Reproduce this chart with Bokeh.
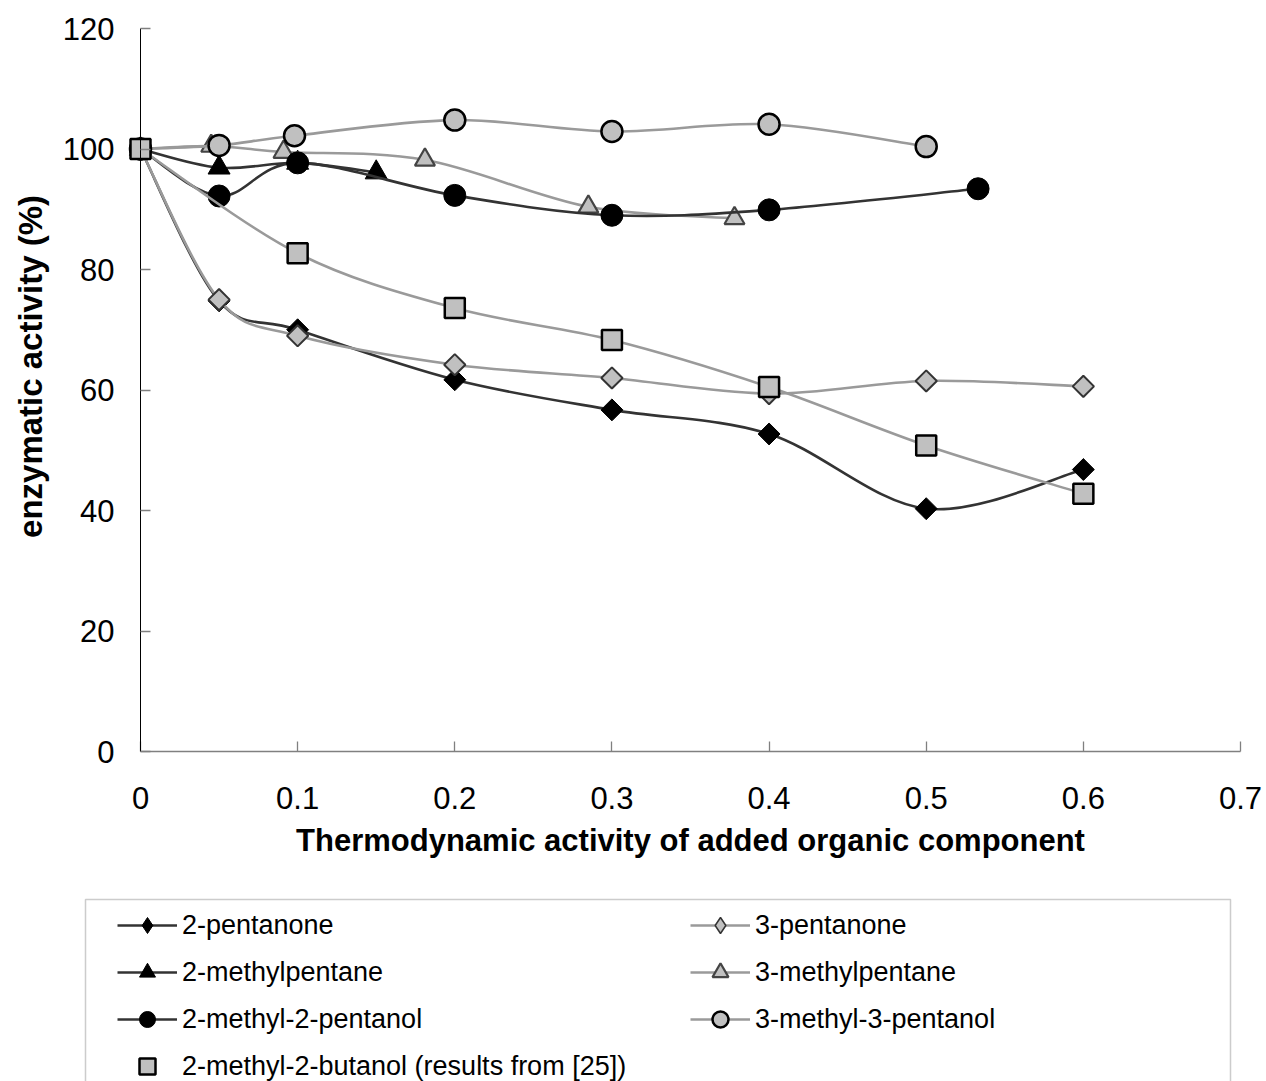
import numpy as np
from bokeh.plotting import figure
from bokeh.models import Range1d, FixedTicker, Legend, LegendItem, BoxAnnotation, Label
from bokeh.embed import file_html
from bokeh.resources import INLINE

# ---------------- data ----------------
x_ticks = [0, 0.1, 0.2, 0.3, 0.4, 0.5, 0.6, 0.7]
x_tick_labels = ["0", "0.1", "0.2", "0.3", "0.4", "0.5", "0.6", "0.7"]
y_ticks = [0, 20, 40, 60, 80, 100, 120]
y_tick_labels = ["0", "20", "40", "60", "80", "100", "120"]

pentanone2_x = [0, 0.05, 0.1, 0.2, 0.3, 0.4, 0.5, 0.6]
pentanone2_y = [100, 74.8, 70.0, 61.7, 56.7, 52.7, 40.3, 46.8]

pentanone3_x = [0, 0.05, 0.1, 0.2, 0.3, 0.4, 0.5, 0.6]
pentanone3_y = [100, 75.0, 69.0, 64.2, 62.0, 59.4, 61.5, 60.6]

methylpentane2_x = [0, 0.05, 0.1, 0.15]
methylpentane2_y = [100, 96.9, 97.7, 96.1]

methylpentane3_x = [0, 0.045, 0.091, 0.181, 0.285, 0.378]
methylpentane3_y = [100, 100.5, 99.5, 98.2, 90.4, 88.5]

methylpentanol2_x = [0, 0.05, 0.1, 0.2, 0.3, 0.4, 0.533]
methylpentanol2_y = [100, 92.2, 97.7, 92.3, 89.0, 89.9, 93.4]

methylpentanol3_x = [0, 0.05, 0.098, 0.2, 0.3, 0.4, 0.5]
methylpentanol3_y = [100, 100.6, 102.2, 104.8, 102.9, 104.1, 100.4]

methylbutanol2_x = [0, 0.1, 0.2, 0.3, 0.4, 0.5, 0.6]
methylbutanol2_y = [100, 82.7, 73.6, 68.3, 60.5, 50.8, 42.8]

# ---------------- layout (pixels) ----------------
W, H = 1266, 1081
AX_LEFT, AX_RIGHT = 140, 1240      # x = 0 .. 0.7
AX_TOP, AX_BOTTOM = 28, 751        # y = 120 .. 0
X_MAX, Y_MAX = 0.7, 120.0
kx = X_MAX / (AX_RIGHT - AX_LEFT)
ky = Y_MAX / (AX_BOTTOM - AX_TOP)

FONT = "Liberation Sans"
DARK_LINE = "#333333"
GRAY_LINE = "#9a9a9a"
GRAY_FILL = "#c0c0c0"

p = figure(
    width=W, height=H,
    min_border=0,
    x_range=Range1d(-AX_LEFT * kx, X_MAX + (W - AX_RIGHT) * kx),
    y_range=Range1d(-(H - AX_BOTTOM) * ky, Y_MAX + AX_TOP * ky),
    output_backend="svg", toolbar_location=None,
)
p.outline_line_color = None
p.grid.visible = False
p.background_fill_color = "white"
p.border_fill_color = "white"

# axes (placed at the data origin; the frame fills the whole canvas)
p.xaxis.fixed_location = 0
p.yaxis.fixed_location = 0
p.xaxis.bounds = (0, X_MAX)
p.yaxis.bounds = (0, Y_MAX)
p.xaxis.ticker = FixedTicker(ticks=x_ticks)
p.yaxis.ticker = FixedTicker(ticks=y_ticks)
p.xaxis.major_label_overrides = {t: s for t, s in zip(x_ticks, x_tick_labels)}
p.yaxis.major_label_overrides = {t: s for t, s in zip(y_ticks, y_tick_labels)}
for ax in (p.xaxis, p.yaxis):
    ax.minor_tick_line_color = None
    ax.major_tick_in = 10
    ax.major_tick_out = 0
    ax.major_tick_line_color = "#808080"
    ax.major_tick_line_width = 1.3
    ax.major_label_text_font = FONT
    ax.major_label_text_font_size = "31px"
    ax.major_label_text_color = "black"
    ax.axis_label_text_font = FONT
    ax.axis_label_text_font_style = "bold"
    ax.axis_label_text_color = "black"
p.xaxis.axis_line_color = "#808080"
p.xaxis.axis_line_width = 1.5
p.yaxis.axis_line_color = "black"
p.yaxis.axis_line_width = 1
p.xaxis.major_label_standoff = 35
p.yaxis.major_label_standoff = 26
p.xaxis.axis_label = "Thermodynamic activity of added organic component"
p.xaxis.axis_label_text_font_size = "31px"
p.xaxis.axis_label_standoff = 11

# y-axis title, placed as in the reference (slightly above the axis centre)
p.add_layout(Label(
    x=30, y=H - 366, x_units="screen", y_units="screen",
    text="enzymatic activity (%)", angle=np.pi / 2,
    text_align="center", text_baseline="middle",
    text_font=FONT, text_font_style="bold", text_font_size="33px", text_color="black",
))


def smooth(xs, ys):
    """Bezier control points (Catmull-Rom style) through the data points."""
    x = np.asarray(xs, float)
    y = np.asarray(ys, float)
    n = len(x)
    xp = np.concatenate([[x[0]], x, [x[-1]]])
    yp = np.concatenate([[y[0]], y, [y[-1]]])
    return dict(
        x0=x[:-1], y0=y[:-1], x1=x[1:], y1=y[1:],
        cx0=x[:-1] + (xp[2:n + 1] - xp[0:n - 1]) / 6.0,
        cy0=y[:-1] + (yp[2:n + 1] - yp[0:n - 1]) / 6.0,
        cx1=x[1:] - (xp[3:n + 2] - xp[1:n]) / 6.0,
        cy1=y[1:] - (yp[3:n + 2] - yp[1:n]) / 6.0,
    )


def curve(xs, ys, color):
    return p.bezier(**smooth(xs, ys), line_color=color, line_width=2.6)


# 2-pentanone
c1 = curve(pentanone2_x, pentanone2_y, DARK_LINE)
d1 = p.scatter(pentanone2_x, pentanone2_y, marker="diamond", size=18,
               fill_color="black", line_color="black", line_width=1)
m1 = p.scatter(pentanone2_x, pentanone2_y, marker="square", angle=np.pi / 4, size=15.5,
               fill_color="black", line_color="black", line_width=1)
# 3-pentanone
c2 = curve(pentanone3_x, pentanone3_y, GRAY_LINE)
d2 = p.scatter(pentanone3_x, pentanone3_y, marker="diamond", size=17,
               fill_color=GRAY_FILL, line_color="#333333", line_width=1.5)
m2 = p.scatter(pentanone3_x, pentanone3_y, marker="square", angle=np.pi / 4, size=15,
               fill_color=GRAY_FILL, line_color="#333333", line_width=2)
# 2-methylpentane
c3 = curve(methylpentane2_x, methylpentane2_y, DARK_LINE)
m3 = p.scatter(methylpentane2_x, methylpentane2_y, marker="triangle", size=22,
               fill_color="black", line_color="black", line_width=1)
# 3-methylpentane
c4 = curve(methylpentane3_x, methylpentane3_y, GRAY_LINE)
m4 = p.scatter(methylpentane3_x, methylpentane3_y, marker="triangle", size=20,
               fill_color=GRAY_FILL, line_color="#444444", line_width=2.2)
# 2-methyl-2-pentanol
c5 = curve(methylpentanol2_x, methylpentanol2_y, DARK_LINE)
m5 = p.scatter(methylpentanol2_x, methylpentanol2_y, marker="circle", size=22,
               fill_color="black", line_color="black", line_width=1)
# 3-methyl-3-pentanol
c6 = curve(methylpentanol3_x, methylpentanol3_y, GRAY_LINE)
m6 = p.scatter(methylpentanol3_x, methylpentanol3_y, marker="circle", size=21,
               fill_color=GRAY_FILL, line_color="black", line_width=2.5)
# 2-methyl-2-butanol
c7 = curve(methylbutanol2_x, methylbutanol2_y, GRAY_LINE)
m7 = p.scatter(methylbutanol2_x, methylbutanol2_y, marker="square", size=20,
               fill_color=GRAY_FILL, line_color="black", line_width=2.5)

legend = Legend(
    items=[
        LegendItem(label="2-pentanone", renderers=[c1, d1]),
        LegendItem(label="2-methylpentane", renderers=[c3, m3]),
        LegendItem(label="2-methyl-2-pentanol", renderers=[c5, m5]),
        LegendItem(label="2-methyl-2-butanol (results from [25])", renderers=[m7]),
        LegendItem(label="3-pentanone", renderers=[c2, d2]),
        LegendItem(label="3-methylpentane", renderers=[c4, m4]),
        LegendItem(label="3-methyl-3-pentanol", renderers=[c6, m6]),
    ],
    location=(117, -5),
    ncols=2,
    orientation="vertical",
    padding=0,
    spacing=7,
    glyph_width=60,
    glyph_height=40,
    label_height=40,
    label_width=501,
    label_standoff=5,
    label_text_font=FONT,
    label_text_font_size="27px",
    label_text_color="black",
    border_line_color=None,
    background_fill_alpha=0,
)
p.add_layout(legend)

legend_frame = BoxAnnotation(
    left=85, right=1230, top=H - 899, bottom=-10,
    left_units="screen", right_units="screen", top_units="screen", bottom_units="screen",
    fill_color=None, fill_alpha=0, line_color="#555555", line_width=1.5,
)
p.add_layout(legend_frame)

open("out.html", "w").write(file_html(p, INLINE))
